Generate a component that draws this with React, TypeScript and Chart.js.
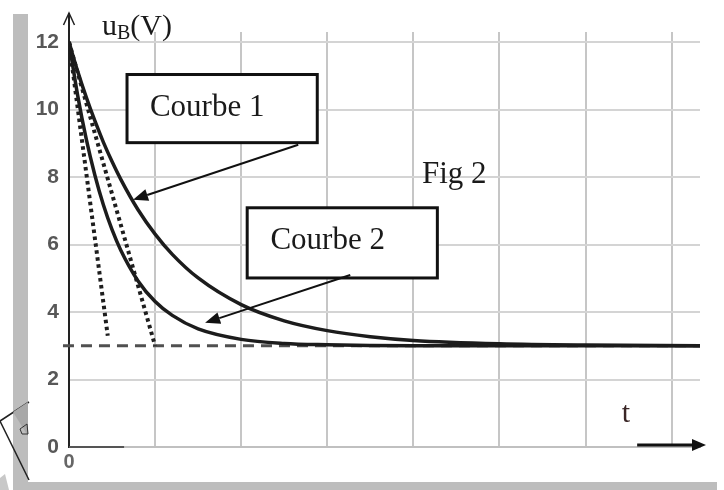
import React, { useEffect, useRef } from "react";
import { Chart, registerables } from "chart.js";

Chart.register(...registerables);

// ---- Data ----
const timeSamples = [0, 0.1, 0.2, 0.3, 0.4, 0.5, 0.6, 0.8, 1.0, 1.2, 1.5, 2.0, 2.5, 3.0, 3.5, 4.0, 5.0, 6.0, 7.33];
const courbe1Values = [12, 11.14, 10.37, 9.67, 9.03, 8.46, 7.94, 7.04, 6.31, 5.71, 5.01, 4.22, 3.74, 3.45, 3.27, 3.16, 3.06, 3.02, 3.0];
const courbe2Values = [12, 10.43, 9.13, 8.06, 7.17, 6.44, 5.84, 4.93, 4.31, 3.9, 3.5, 3.19, 3.07, 3.03, 3.01, 3.0, 3.0, 3.0, 3.0];

const tangent1T = [0, 1.0];
const tangent1V = [12, 3.0];
const tangent2T = [0, 0.45];
const tangent2V = [12, 3.3];

const asymptoteT = [-0.07, 7.33];
const asymptoteV = [3, 3];

const yTickValues = [0, 2, 4, 6, 8, 10, 12];
const xTickLabels = ["0"];

const X_MIN = 0;
const X_MAX = 7.33;
const Y_MIN = 0;
const Y_MAX = 12.3;

const pts = (ts: number[], vs: number[]) => ts.map((t, i) => ({ x: t, y: vs[i] }));

function arrow(ctx: CanvasRenderingContext2D, x1: number, y1: number, x2: number, y2: number, head: number, half: number, lw: number) {
  const ang = Math.atan2(y2 - y1, x2 - x1);
  const bx = x2 - head * Math.cos(ang);
  const by = y2 - head * Math.sin(ang);
  ctx.beginPath();
  ctx.moveTo(x1, y1);
  ctx.lineTo(bx, by);
  ctx.lineWidth = lw;
  ctx.stroke();
  ctx.beginPath();
  ctx.moveTo(x2, y2);
  ctx.lineTo(bx + half * Math.sin(ang), by - half * Math.cos(ang));
  ctx.lineTo(bx - half * Math.sin(ang), by + half * Math.cos(ang));
  ctx.closePath();
  ctx.fill();
}

const decorPlugin = {
  id: "decor",
  beforeDraw(chart: any) {
    const ctx = chart.ctx as CanvasRenderingContext2D;
    ctx.save();
    ctx.fillStyle = "#ffffff";
    ctx.fillRect(0, 0, chart.width, chart.height);
    // grey frame strips
    ctx.fillStyle = "#bdbdbd";
    ctx.fillRect(13, 14, 15, 476);
    ctx.fillRect(13, 482, 704, 8);
    // partial watermark bottom-left
    ctx.strokeStyle = "#222";
    ctx.lineWidth = 1.5;
    ctx.beginPath();
    ctx.moveTo(0, 421);
    ctx.lineTo(29, 402);
    ctx.moveTo(0, 421);
    ctx.lineTo(29, 480);
    ctx.stroke();
    ctx.fillStyle = "#a8a8a8";
    ctx.beginPath();
    ctx.moveTo(13, 412);
    ctx.lineTo(28, 402);
    ctx.lineTo(28, 436);
    ctx.closePath();
    ctx.fill();
    ctx.strokeStyle = "#333";
    ctx.lineWidth = 1;
    ctx.beginPath();
    ctx.moveTo(20, 429);
    ctx.lineTo(27, 424);
    ctx.lineTo(28, 434);
    ctx.lineTo(22, 434);
    ctx.closePath();
    ctx.stroke();
    ctx.fillStyle = "#c8c8c8";
    ctx.beginPath();
    ctx.moveTo(0, 478);
    ctx.lineTo(5, 474);
    ctx.lineTo(9, 490);
    ctx.lineTo(0, 490);
    ctx.closePath();
    ctx.fill();
    ctx.restore();
  },
  afterDraw(chart: any) {
    const ctx = chart.ctx as CanvasRenderingContext2D;
    const xs = chart.scales.x;
    const ys = chart.scales.y;
    const px = (t: number) => xs.getPixelForValue(t);
    const py = (v: number) => ys.getPixelForValue(v);
    const area = chart.chartArea;
    ctx.save();

    // y axis extension + open arrow head
    const ax = px(0);
    ctx.strokeStyle = "#222";
    ctx.lineWidth = 2;
    ctx.beginPath();
    ctx.moveTo(ax, area.top + 1);
    ctx.lineTo(ax, 13);
    ctx.stroke();
    ctx.lineWidth = 1.5;
    ctx.beginPath();
    ctx.moveTo(ax - 5.5, 25);
    ctx.lineTo(ax, 13);
    ctx.lineTo(ax + 5.5, 25);
    ctx.stroke();

    // darker x axis segment near origin
    ctx.strokeStyle = "#555";
    ctx.lineWidth = 2;
    ctx.beginPath();
    ctx.moveTo(ax, py(0));
    ctx.lineTo(px(0.64), py(0));
    ctx.stroke();

    // t axis arrow
    ctx.strokeStyle = "#111";
    ctx.fillStyle = "#111";
    arrow(ctx, px(6.6), py(0) - 2, 706, py(0) - 2, 14, 6, 3);

    // axis labels
    ctx.fillStyle = "#1a1a1a";
    ctx.textBaseline = "alphabetic";
    ctx.textAlign = "left";
    ctx.font = '30px "Liberation Serif", serif';
    ctx.fillText("u", 102, 35);
    const uw = ctx.measureText("u").width;
    ctx.font = '20px "Liberation Serif", serif';
    ctx.fillText("B", 102 + uw, 39);
    const bw = ctx.measureText("B").width;
    ctx.font = '30px "Liberation Serif", serif';
    ctx.fillText("(V)", 102 + uw + bw, 35);

    ctx.fillStyle = "#3a2626";
    ctx.textAlign = "center";
    ctx.fillText("t", px(6.47), py(0.75));

    // Fig 2
    ctx.fillStyle = "#1a1a1a";
    ctx.textAlign = "left";
    ctx.font = '31px "Liberation Serif", serif';
    ctx.textBaseline = "middle";
    ctx.fillText("Fig 2", px(4.1), py(8.07));

    // Boxes with labels
    const box = (t1: number, t2: number, v1: number, v2: number, label: string, tx: number, tv: number) => {
      const x1 = px(t1), x2 = px(t2), y1 = py(v1), y2 = py(v2);
      ctx.fillStyle = "#ffffff";
      ctx.fillRect(x1, y1, x2 - x1, y2 - y1);
      ctx.strokeStyle = "#111";
      ctx.lineWidth = 3;
      ctx.strokeRect(x1, y1, x2 - x1, y2 - y1);
      ctx.fillStyle = "#1a1a1a";
      ctx.font = '31px "Liberation Serif", serif';
      ctx.textAlign = "left";
      ctx.textBaseline = "middle";
      ctx.fillText(label, px(tx), py(tv));
    };
    box(0.674, 2.884, 11.04, 9.02, "Courbe 1", 0.94, 10.05);
    box(2.07, 4.279, 7.09, 5.01, "Courbe 2", 2.34, 6.1);

    // callout arrows
    ctx.strokeStyle = "#111";
    ctx.fillStyle = "#111";
    arrow(ctx, px(2.663), py(8.96), px(0.744), py(7.33), 15, 6, 2);
    arrow(ctx, px(3.267), py(5.1), px(1.581), py(3.68), 15, 6, 2);

    ctx.restore();
  },
};

export default function App() {
  const canvasRef = useRef<HTMLCanvasElement | null>(null);

  useEffect(() => {
    if (!canvasRef.current) return;
    const chart = new Chart(canvasRef.current, {
      type: "scatter",
      data: {
        datasets: [
          {
            label: "Courbe 1",
            data: pts(timeSamples, courbe1Values),
            showLine: true,
            borderColor: "#1c1c1c",
            borderWidth: 3.5,
            pointRadius: 0,
            cubicInterpolationMode: "monotone",
          },
          {
            label: "Courbe 2",
            data: pts(timeSamples, courbe2Values),
            showLine: true,
            borderColor: "#1c1c1c",
            borderWidth: 3.5,
            pointRadius: 0,
            cubicInterpolationMode: "monotone",
          },
          {
            label: "Tangente 1",
            data: pts(tangent1T, tangent1V),
            showLine: true,
            borderColor: "#1e1e1e",
            borderWidth: 4,
            borderDash: [3.5, 3.5],
            pointRadius: 0,
          },
          {
            label: "Tangente 2",
            data: pts(tangent2T, tangent2V),
            showLine: true,
            borderColor: "#1e1e1e",
            borderWidth: 4,
            borderDash: [3.5, 3.5],
            pointRadius: 0,
          },
          {
            label: "Asymptote",
            data: pts(asymptoteT, asymptoteV),
            showLine: true,
            borderColor: "#505050",
            borderWidth: 3,
            borderDash: [11, 7],
            pointRadius: 0,
            clip: false,
          } as any,
        ],
      },
      options: {
        animation: false,
        responsive: false,
        layout: { padding: { top: 32, right: 24, bottom: 0, left: 0 } },
        plugins: { legend: { display: false }, tooltip: { enabled: false } },
        scales: {
          x: {
            type: "linear",
            min: X_MIN,
            max: X_MAX,
            afterFit: (s: any) => {
              s.height = 43;
            },
            ticks: {
              stepSize: 1,
              includeBounds: false,
              padding: 3,
              color: "#666",
              font: { family: '"Liberation Sans", Arial, sans-serif', size: 20, weight: "bold" },
              callback: (v: any) => (Number(v) === 0 ? xTickLabels[0] : ""),
            },
            grid: { color: "#c6c6c6", lineWidth: 2, drawTicks: false },
            border: { color: "#c0c0c0", width: 2 },
          },
          y: {
            type: "linear",
            min: Y_MIN,
            max: Y_MAX,
            afterFit: (s: any) => {
              s.width = 69;
            },
            afterBuildTicks: (s: any) => {
              s.ticks = yTickValues.map((v) => ({ value: v }));
            },
            ticks: {
              stepSize: 2,
              includeBounds: false,
              padding: 10,
              color: "#585858",
              font: { family: '"Liberation Sans", Arial, sans-serif', size: 21, weight: "bold" },
            },
            grid: { color: "#d4d4d4", lineWidth: 2, drawTicks: false },
            border: { color: "#222", width: 2 },
          },
        },
      },
      plugins: [decorPlugin],
    } as any);
    return () => chart.destroy();
  }, []);

  return (
    <div style={{ position: "absolute", left: 0, top: 0, width: 724, height: 490 }}>
      <canvas ref={canvasRef} width={724} height={490} style={{ display: "block" }} />
    </div>
  );
}
